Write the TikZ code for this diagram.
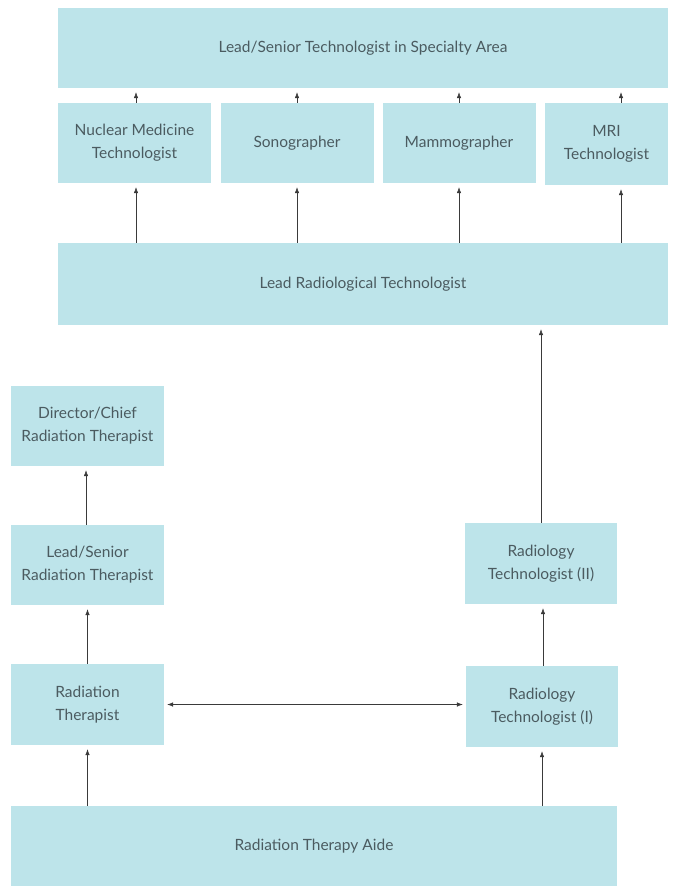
\documentclass[tikz,border=0pt]{standalone}
\usepackage{fontspec}
\setmainfont{Lato}
\usepackage{xcolor}
\usetikzlibrary{positioning}
\usetikzlibrary{arrows.meta}
\definecolor{boxfill}{HTML}{BDE4EA}
\definecolor{boxtext}{HTML}{4B5B60}
\definecolor{linegray}{HTML}{3A3A3A}
\tikzstyle{jobbox} = [rectangle, fill=boxfill, text=boxtext, align=center, inner sep=0pt, minimum width=153pt, minimum height=80pt, font=\fontsize{15.5}{23}\selectfont]
\tikzstyle{wide} = [minimum width=610pt]
\tikzstyle{uparrow} = [draw, linegray, line width=0.55pt, -{Latex[length=6pt,width=4.5pt]}, shorten >=4pt]

\begin{document}
\begin{tikzpicture}[x=1pt, y=-1pt]
\useasboundingbox (0,0) rectangle (683,886);

% specialty area
\node [jobbox, wide] at (363,48) (spec) {Lead/Senior Technologist in Specialty Area};

% specialties
\node [jobbox] at (134.5,143) (nuc) {Nuclear Medicine\\Technologist};
\node [jobbox] at (297,143) (sono) {Sonographer};
\node [jobbox] at (459,143) (mammo) {Mammographer};
\node [jobbox, minimum width=123pt, minimum height=82pt] at (606.5,144) (mri) {MRI\\Technologist};

% lead radiological
\node [jobbox, wide, minimum height=82pt] at (363,284) (leadrad) {Lead Radiological Technologist};

% therapist side
\node [jobbox] at (87.5,426) (dir) {Director/Chief\\Radiation Therapist};
\node [jobbox] at (87.5,565) (leadther) {Lead/Senior\\Radiation Therapist};
\node [jobbox, minimum height=81pt] at (87.5,704.5) (ther) {Radiation\\Therapist};

% radiology side
\node [jobbox, minimum width=152pt, minimum height=81pt] at (541,563.5) (radtwo) {Radiology\\Technologist (II)};
\node [jobbox, minimum width=152pt, minimum height=81pt] at (542,706.5) (radone) {Radiology\\Technologist (I)};

% aide
\node [jobbox, minimum width=606pt] at (314,846) (aide) {Radiation Therapy Aide};

% specialties -> specialty area
\path [uparrow] ([xshift=1.5pt]nuc.north) to ([xshift=1.5pt]nuc.north |- spec.south);
\path [uparrow] (sono.north) to (sono.north |- spec.south);
\path [uparrow] (mammo.north) to (mammo.north |- spec.south);
\path [uparrow] ([xshift=14.5pt]mri.north) to ([xshift=14.5pt]mri.north |- spec.south);

% lead radiological -> specialties
\path [uparrow] (leadrad.north -| nuc.south) ++(1.5,0) to ([xshift=1.5pt]nuc.south);
\path [uparrow] (leadrad.north -| sono.south) to (sono.south);
\path [uparrow] (leadrad.north -| mammo.south) to (mammo.south);
\path [uparrow] (leadrad.north -| mri.south) ++(14.5,0) to ([xshift=14.5pt]mri.south);

% radiology ladder
\path [uparrow] (radtwo.north) to (radtwo.north |- leadrad.south);
\path [uparrow] ([xshift=1pt]radone.north) to ([xshift=1pt]radone.north |- radtwo.south);
\path [uparrow] (aide.north -| radone.south) to (radone.south);

% therapist ladder
\path [uparrow] ([xshift=-1.5pt]leadther.north) to ([xshift=-1.5pt]leadther.north |- dir.south);
\path [uparrow] (ther.north) to (ther.north |- leadther.south);
\path [uparrow] (aide.north -| ther.south) to (ther.south);

% lateral move
\path [draw, linegray, line width=0.55pt, {Latex[length=6pt,width=4.5pt]}-{Latex[length=6pt,width=4.5pt]}, shorten <=3pt, shorten >=3pt] (ther.east) to (ther.east -| radone.west);
\end{tikzpicture}
\end{document}
